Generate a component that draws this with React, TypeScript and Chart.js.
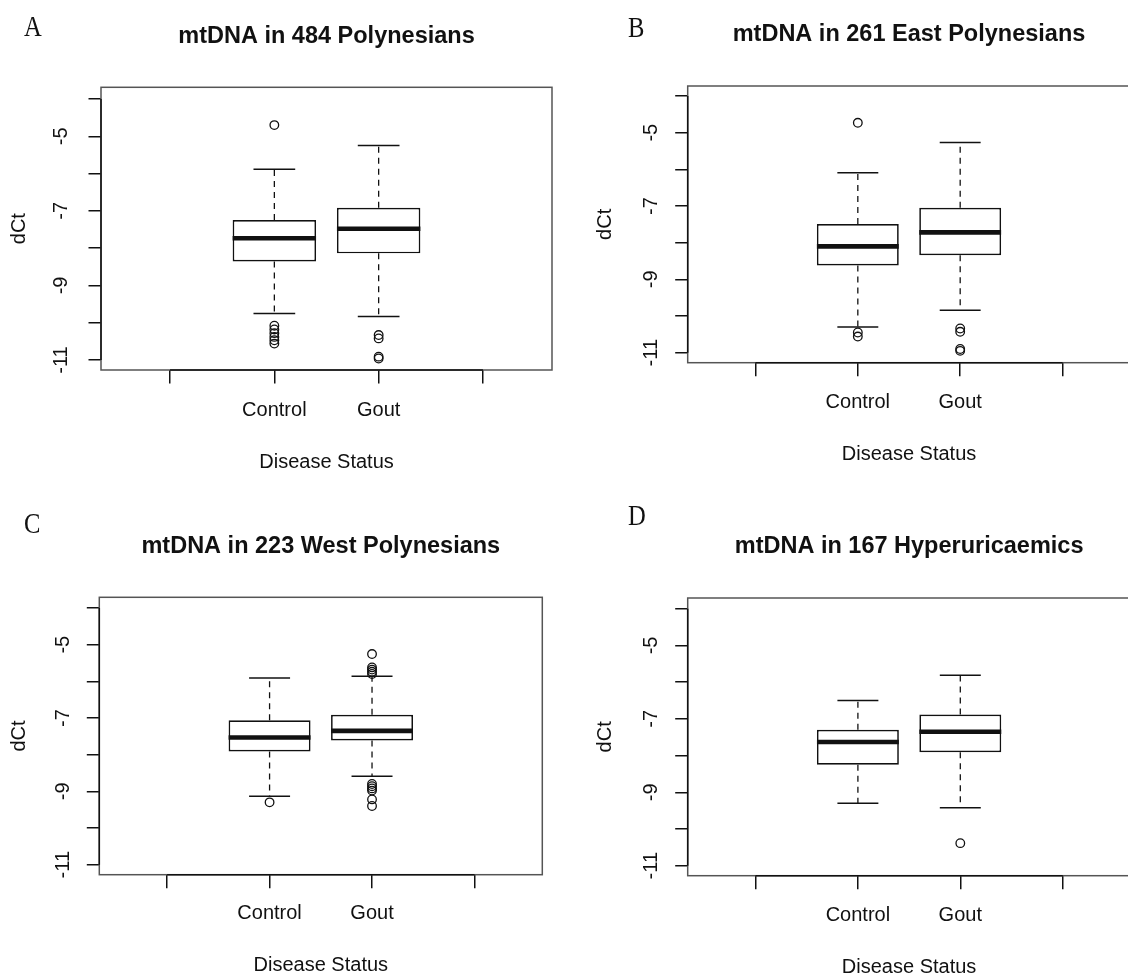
import React, { useEffect, useRef } from 'react';
import { Chart, registerables } from 'chart.js';

Chart.register(...registerables);

// ---------------- data ----------------
const CATEGORIES = ['Control', 'Gout'];
const TITLES = [
  'mtDNA in 484 Polynesians',
  'mtDNA in 261 East Polynesians',
  'mtDNA in 223 West Polynesians',
  'mtDNA in 167 Hyperuricaemics',
];
const PANEL_LETTERS = ['A', 'B', 'C', 'D'];
const Y_LABELED_TICKS = [-5, -7, -9, -11];
const X_AXIS_TITLE = 'Disease Status';
const Y_AXIS_TITLE = 'dCt';

// five-number summaries: [lower whisker, Q1, median, Q3, upper whisker]
const A_CONTROL = [-9.75, -8.36, -7.735, -7.245, -5.885];
const A_GOUT = [-9.83, -8.14, -7.48, -6.915, -5.25];
const A_CONTROL_OUT = [-4.7, -10.08, -10.18, -10.28, -10.38, -10.47, -10.56];
const A_GOUT_OUT = [-10.33, -10.42, -10.91, -10.96];

const B_CONTROL = [-10.3, -8.62, -8.1, -7.49, -6.09];
const B_GOUT = [-9.84, -8.34, -7.72, -7.05, -5.27];
const B_CONTROL_OUT = [-4.73, -10.45, -10.56];
const B_GOUT_OUT = [-10.34, -10.43, -10.9, -10.95];

const C_CONTROL = [-9.135, -7.91, -7.53, -7.06, -5.91];
const C_GOUT = [-8.59, -7.61, -7.35, -6.91, -5.86];
const C_CONTROL_OUT = [-9.3];
const C_GOUT_OUT = [-5.255, -5.62, -5.68, -5.74, -5.8, -8.8, -8.86, -8.92, -8.98, -9.22, -9.4];

const D_CONTROL = [-9.3, -8.25, -7.63, -7.3, -6.5];
const D_GOUT = [-9.42, -7.91, -7.35, -6.88, -5.815];
const D_CONTROL_OUT: number[] = [];
const D_GOUT_OUT = [-10.385];

const Y_RANGES = [
  [-11.268, -3.686],
  [-11.273, -3.727],
  [-11.273, -3.708],
  [-11.272, -3.709],
];
const X_RANGE = [-0.662, 3.662];

// ---------------- style / layout ----------------
const INK = '#111111';
const FRAME = '#555555';
const SANS = '"Liberation Sans", Arial, Helvetica, sans-serif';
const SERIF = '"Liberation Serif", "DejaVu Serif", serif';
const BOX_WIDTH = 0.8;
const BOX_HALF = BOX_WIDTH / 2;
const CAP_HALF = 0.2;
const TL_X = 13.5;
const TL_Y = 12.5;
const TICK_SIZE = 20;
const TICK_LH = 1.2;
const TITLE_SIZE = 23.5;
const TITLE_LH = 1.2;
const AXIS_TITLE_SIZE = 20;
const AXIS_TITLE_LH = 0.8;
const PAGE_W = 1128;

// panel geometry in page coordinates
const GEOMS = [
  { cx: 0, cy: 0, w: 564, h: 488, boxL: 101, boxR: 552, boxT: 87.3, boxB: 370, titleMid: 36.2, xTickMid: 410, xTitleMid: 462.7, yTickMid: 61.3, yTitleMid: 19.7, letterX: 23.6, letterBase: 36 },
  { cx: 564, cy: 0, w: 580, h: 488, boxL: 687.7, boxR: 1130.3, boxT: 86, boxB: 362.7, titleMid: 34.7, xTickMid: 402.5, xTitleMid: 454.2, yTickMid: 651.7, yTitleMid: 605, letterX: 627.5, letterBase: 36.7 },
  { cx: 0, cy: 488, w: 564, h: 488, boxL: 99.3, boxR: 542.3, boxT: 597.3, boxB: 874.7, titleMid: 546.4, xTickMid: 913.8, xTitleMid: 965.5, yTickMid: 63.3, yTitleMid: 19, letterX: 24.2, letterBase: 533 },
  { cx: 564, cy: 488, w: 580, h: 488, boxL: 687.7, boxR: 1130.5, boxT: 598, boxB: 875.7, titleMid: 546.4, xTickMid: 915.5, xTitleMid: 967.2, yTickMid: 651.7, yTitleMid: 605, letterX: 627.8, letterBase: 525.3 },
];

const PANELS = [
  { title: TITLES[0], letter: PANEL_LETTERS[0], stats: [A_CONTROL, A_GOUT], outliers: [A_CONTROL_OUT, A_GOUT_OUT], yRange: Y_RANGES[0], geom: GEOMS[0] },
  { title: TITLES[1], letter: PANEL_LETTERS[1], stats: [B_CONTROL, B_GOUT], outliers: [B_CONTROL_OUT, B_GOUT_OUT], yRange: Y_RANGES[1], geom: GEOMS[1] },
  { title: TITLES[2], letter: PANEL_LETTERS[2], stats: [C_CONTROL, C_GOUT], outliers: [C_CONTROL_OUT, C_GOUT_OUT], yRange: Y_RANGES[2], geom: GEOMS[2] },
  { title: TITLES[3], letter: PANEL_LETTERS[3], stats: [D_CONTROL, D_GOUT], outliers: [D_CONTROL_OUT, D_GOUT_OUT], yRange: Y_RANGES[3], geom: GEOMS[3] },
];

function measureWidest(labels: string[]): number {
  const c = document.createElement('canvas');
  const ctx = c.getContext('2d');
  if (!ctx) return 28.9;
  ctx.font = `${TICK_SIZE}px ${SANS}`;
  return Math.max(...labels.map((l) => ctx.measureText(l).width));
}

function seg(points: { x: number; y: number }[], extra: any) {
  return {
    type: 'line',
    data: points,
    borderColor: INK,
    borderWidth: 1.4,
    pointRadius: 0,
    pointHoverRadius: 0,
    fill: false,
    tension: 0,
    borderCapStyle: 'butt',
    ...extra,
  };
}

function buildDatasets(p: any) {
  const ds: any[] = [];
  ds.push({
    type: 'bar',
    data: p.stats.map((s: number[], i: number) => ({ x: i + 1, y: [s[1], s[3]] })),
    backgroundColor: '#ffffff',
    borderColor: INK,
    borderWidth: 1.7,
    borderSkipped: false,
    categoryPercentage: 1,
    barPercentage: BOX_WIDTH,
    order: 3,
  });
  p.stats.forEach((s: number[], i: number) => {
    const c = i + 1;
    ds.push(seg([{ x: c - BOX_HALF, y: s[2] }, { x: c + BOX_HALF, y: s[2] }], { borderWidth: 4.6, order: 0 }));
    ds.push(seg([{ x: c, y: s[3] }, { x: c, y: s[4] }], { borderDash: [6, 5], borderWidth: 1.3, order: 2 }));
    ds.push(seg([{ x: c, y: s[1] }, { x: c, y: s[0] }], { borderDash: [6, 5], borderWidth: 1.3, order: 2 }));
    ds.push(seg([{ x: c - CAP_HALF, y: s[4] }, { x: c + CAP_HALF, y: s[4] }], { borderWidth: 1.5, order: 2 }));
    ds.push(seg([{ x: c - CAP_HALF, y: s[0] }, { x: c + CAP_HALF, y: s[0] }], { borderWidth: 1.5, order: 2 }));
  });
  ds.push({
    type: 'scatter',
    data: p.outliers.flatMap((arr: number[], i: number) => arr.map((v) => ({ x: i + 1, y: v }))),
    pointStyle: 'circle',
    pointRadius: 4.3,
    pointHoverRadius: 4.3,
    pointBackgroundColor: 'rgba(0,0,0,0)',
    pointBorderColor: INK,
    pointBorderWidth: 1.3,
    order: 1,
  });
  return ds;
}

const framePlugin = {
  id: 'rFrame',
  afterDraw(chart: any) {
    const { ctx, chartArea: a, scales } = chart;
    ctx.save();
    ctx.strokeStyle = FRAME;
    ctx.lineWidth = 1.5;
    ctx.strokeRect(a.left, a.top, a.right - a.left, a.bottom - a.top);
    const xt = scales.x.ticks;
    const yt = scales.y.ticks;
    ctx.strokeStyle = INK;
    ctx.lineWidth = 1.5;
    ctx.beginPath();
    ctx.moveTo(scales.x.getPixelForValue(xt[0].value), a.bottom);
    ctx.lineTo(scales.x.getPixelForValue(xt[xt.length - 1].value), a.bottom);
    ctx.moveTo(a.left, scales.y.getPixelForValue(yt[0].value));
    ctx.lineTo(a.left, scales.y.getPixelForValue(yt[yt.length - 1].value));
    ctx.stroke();
    ctx.restore();
  },
};

function buildOptions(p: any, widest: number) {
  const g = p.geom;
  const yAxisW = g.boxL - g.cx;
  const xAxisH = g.cy + g.h - g.boxB;
  const rightPad = g.cx + g.w - g.boxR;
  const tlh = TITLE_SIZE * TITLE_LH;
  const titlePadTop = g.titleMid - g.cy - tlh / 2;
  const titlePadBottom = g.boxT - g.cy - tlh - titlePadTop;
  const tickLH = TICK_SIZE * TICK_LH;
  const xTickPad = g.xTickMid - g.boxB - TL_X - tickLH / 2;
  const atHalf = (AXIS_TITLE_SIZE * AXIS_TITLE_LH) / 2;
  const xTitlePadBottom = g.cy + g.h - g.xTitleMid - atHalf;
  const yTickPad = g.boxL - g.yTickMid - TL_Y - widest / 2;
  const yTitlePadTop = g.yTitleMid - g.cx - atHalf;

  return {
    animation: false,
    responsive: false,
    devicePixelRatio: 1,
    events: [],
    layout: { padding: { left: 0, right: rightPad, top: 0, bottom: 0 } },
    plugins: {
      legend: { display: false },
      tooltip: { enabled: false },
      title: {
        display: true,
        text: p.title,
        fullSize: false,
        color: INK,
        font: { family: SANS, size: TITLE_SIZE, weight: 'bold', lineHeight: TITLE_LH },
        padding: { top: titlePadTop, bottom: titlePadBottom },
      },
    },
    scales: {
      x: {
        type: 'linear',
        min: X_RANGE[0],
        max: X_RANGE[1],
        offset: false,
        afterFit: (s: any) => {
          s.height = xAxisH;
        },
        border: { display: false },
        grid: { display: true, offset: false, drawOnChartArea: false, drawTicks: true, tickLength: TL_X, color: INK, tickColor: INK, lineWidth: 1.5, tickWidth: 1.5 },
        ticks: {
          stepSize: 1,
          includeBounds: false,
          autoSkip: false,
          maxRotation: 0,
          minRotation: 0,
          padding: xTickPad,
          color: INK,
          font: { family: SANS, size: TICK_SIZE, lineHeight: TICK_LH },
          callback: (v: number) => CATEGORIES[v - 1] ?? '',
        },
        title: {
          display: true,
          text: X_AXIS_TITLE,
          color: INK,
          font: { family: SANS, size: AXIS_TITLE_SIZE, lineHeight: AXIS_TITLE_LH },
          padding: { top: 0, bottom: xTitlePadBottom },
        },
      },
      y: {
        type: 'linear',
        min: p.yRange[0],
        max: p.yRange[1],
        beginAtZero: false,
        afterFit: (s: any) => {
          s.width = yAxisW;
        },
        border: { display: false },
        grid: { display: true, drawOnChartArea: false, drawTicks: true, tickLength: TL_Y, color: INK, tickColor: INK, lineWidth: 1.5, tickWidth: 1.5 },
        ticks: {
          stepSize: 1,
          includeBounds: false,
          autoSkip: false,
          minRotation: 90,
          maxRotation: 90,
          crossAlign: 'center',
          padding: yTickPad,
          color: INK,
          font: { family: SANS, size: TICK_SIZE, lineHeight: TICK_LH },
          callback: (v: number) => (Y_LABELED_TICKS.includes(v) ? String(v) : ''),
        },
        title: {
          display: true,
          text: Y_AXIS_TITLE,
          color: INK,
          font: { family: SANS, size: AXIS_TITLE_SIZE, lineHeight: AXIS_TITLE_LH },
          padding: { top: yTitlePadTop, bottom: 0 },
        },
      },
    },
  };
}

function Panel({ p }: { p: any }) {
  const ref = useRef<HTMLCanvasElement>(null);
  useEffect(() => {
    if (!ref.current) return;
    const widest = measureWidest(Y_LABELED_TICKS.map(String));
    const chart = new Chart(ref.current, {
      type: 'bar',
      data: { datasets: buildDatasets(p) as any },
      options: buildOptions(p, widest) as any,
      plugins: [framePlugin],
    });
    return () => chart.destroy();
  }, [p]);
  const g = p.geom;
  const clipW = Math.min(g.w, PAGE_W - g.cx);
  return (
    <div style={{ position: 'absolute', left: g.cx, top: g.cy, width: clipW, height: g.h, overflow: 'hidden' }}>
      <canvas ref={ref} width={g.w} height={g.h} style={{ display: 'block', width: g.w, height: g.h }} />
    </div>
  );
}

const LETTER_SIZE = 30;
const LETTER_BASELINE_OFFSET = 25.13; // baseline position inside a 30px line box

export default function App() {
  return (
    <div style={{ position: 'absolute', left: 0, top: 0, width: 1128, height: 976, background: '#ffffff', overflow: 'hidden' }}>
      {PANELS.map((p) => (
        <Panel key={p.letter} p={p} />
      ))}
      {PANELS.map((p) => (
        <div
          key={'l' + p.letter}
          style={{
            position: 'absolute',
            left: p.geom.letterX,
            top: p.geom.letterBase - LETTER_BASELINE_OFFSET,
            fontFamily: SERIF,
            fontSize: LETTER_SIZE,
            lineHeight: LETTER_SIZE + 'px',
            color: INK,
            transform: 'scaleX(0.82)',
            transformOrigin: 'left top',
            whiteSpace: 'nowrap',
          }}
        >
          {p.letter}
        </div>
      ))}
    </div>
  );
}
